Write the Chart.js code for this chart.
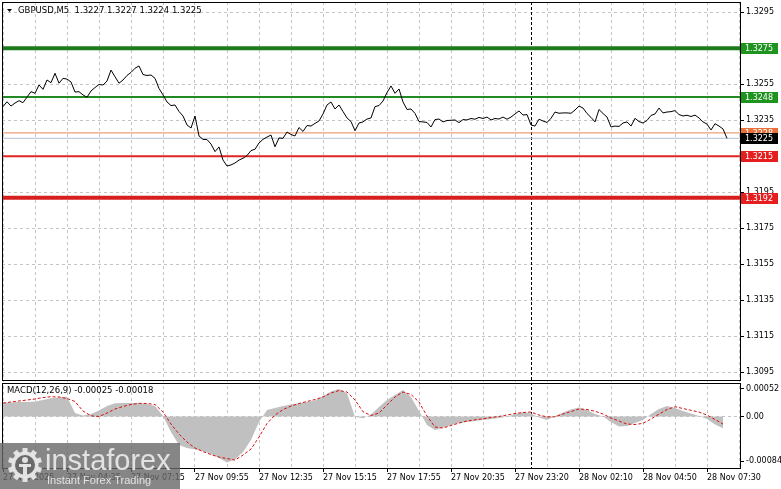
<!DOCTYPE html>
<html><head><meta charset="utf-8">
<script src="https://cdn.jsdelivr.net/npm/chart.js@4.4.1/dist/chart.umd.min.js"></script>
<style>html,body{margin:0;padding:0;background:#fff;}canvas{display:block;}</style>
</head><body>
<canvas id="c" width="781" height="489"></canvas>
<script>
// ---------- data ----------
const symbolTitle = 'GBPUSD,M5  1.3227 1.3227 1.3224 1.3225';
const macdTitle = 'MACD(12,26,9) -0.00025 -0.00018';
const priceStep = 2;   // M5 bars between price samples
const closes = [
1.32426,1.32453,1.32429,1.32446,1.32459,1.32448,1.32479,1.32509,1.32500,1.32546,
1.32522,1.32574,1.32559,1.32611,1.32556,1.32583,1.32579,1.32563,1.32507,1.32509,
1.32491,1.32478,1.32513,1.32532,1.32549,1.32546,1.32568,1.32629,1.32592,1.32556,
1.32574,1.32599,1.32616,1.32639,1.32652,1.32604,1.32599,1.32602,1.32583,1.32527,
1.32491,1.32452,1.32432,1.32435,1.32399,1.32374,1.32324,1.32307,1.32374,1.32263,
1.32244,1.32243,1.32218,1.32176,1.32202,1.32129,1.32096,1.32102,1.32113,1.32129,
1.32139,1.32154,1.32182,1.32189,1.32224,1.32244,1.32257,1.32268,1.32203,1.32252,
1.32250,1.32285,1.32271,1.32263,1.32310,1.32288,1.32321,1.32318,1.32333,1.32346,
1.32385,1.32435,1.32452,1.32413,1.32435,1.32399,1.32363,1.32343,1.32292,1.32335,
1.32341,1.32357,1.32363,1.32426,1.32432,1.32457,1.32504,1.32541,1.32500,1.32524,
1.32452,1.32410,1.32413,1.32388,1.32343,1.32341,1.32338,1.32313,1.32354,1.32357,
1.32341,1.32349,1.32350,1.32352,1.32337,1.32354,1.32352,1.32360,1.32356,1.32366,
1.32360,1.32368,1.32352,1.32360,1.32357,1.32368,1.32356,1.32368,1.32385,1.32402,
1.32379,1.32382,1.32324,1.32318,1.32356,1.32346,1.32338,1.32361,1.32396,1.32389,
1.32391,1.32391,1.32389,1.32407,1.32429,1.32418,1.32388,1.32366,1.32341,1.32410,
1.32388,1.32368,1.32313,1.32318,1.32316,1.32335,1.32341,1.32318,1.32361,1.32343,
1.32335,1.32349,1.32377,1.32385,1.32418,1.32391,1.32396,1.32398,1.32404,1.32382,
1.32374,1.32378,1.32371,1.32379,1.32363,1.32341,1.32329,1.32296,1.32331,1.32318,
1.32302,1.32250];
const macdStep = 4;    // M5 bars between MACD samples
const macdHist = [
0.000255,0.000265,0.000274,0.000274,0.000284,0.000312,0.000344,0.000359,0.000374,0.000066,
0.000019,0.000047,0.000113,0.000198,0.000250,0.000255,0.000255,0.000255,0.000236,0.000198,
0.000009,-0.000293,-0.000539,-0.000595,-0.000624,-0.000652,-0.000709,-0.000784,-0.000870,-0.000813,
-0.000671,-0.000444,-0.000104,0.000123,0.000161,0.000198,0.000227,0.000250,0.000274,0.000302,
0.000388,0.000473,0.000520,0.000439,-0.000006,-0.000034,0.000038,0.000180,0.000312,0.000406,
0.000501,0.000369,0.000104,-0.000161,-0.000255,-0.000208,-0.000161,-0.000123,-0.000104,-0.000085,
-0.000066,-0.000047,-0.000028,-0.000004,0.000047,0.000085,0.000057,-0.000019,-0.000066,0.000009,
0.000076,0.000132,0.000170,0.000123,0.000047,0.000000,-0.000104,-0.000189,-0.000180,-0.000123,
-0.000066,0.000047,0.000142,0.000198,0.000161,0.000104,0.000057,0.000010,-0.000047,-0.000151,
-0.000223];
const macdSignal = [
0.000255,0.000274,0.000293,0.000312,0.000331,0.000359,0.000374,0.000369,0.000340,0.000284,
0.000104,0.000013,0.000000,0.000066,0.000142,0.000189,0.000227,0.000250,0.000246,0.000227,
0.000085,-0.000142,-0.000331,-0.000482,-0.000595,-0.000662,-0.000718,-0.000766,-0.000794,-0.000822,
-0.000728,-0.000614,-0.000388,-0.000132,0.000028,0.000132,0.000198,0.000246,0.000284,0.000321,
0.000369,0.000444,0.000491,0.000463,0.000312,0.000091,0.000019,0.000066,0.000217,0.000369,
0.000463,0.000416,0.000274,0.000010,-0.000198,-0.000217,-0.000170,-0.000123,-0.000085,-0.000062,
-0.000043,-0.000019,0.000002,0.000028,0.000057,0.000076,0.000085,0.000028,-0.000006,-0.000006,
0.000047,0.000095,0.000142,0.000132,0.000100,0.000047,-0.000028,-0.000085,-0.000142,-0.000151,
-0.000129,-0.000047,0.000047,0.000132,0.000185,0.000151,0.000117,0.000085,0.000028,-0.000057,
-0.000142];
const labelEvery = 32;  // bars between time labels
const timeLabels = ['27 Nov 2025','27 Nov 04:35','27 Nov 07:15','27 Nov 09:55','27 Nov 12:35','27 Nov 15:15',
  '27 Nov 17:55','27 Nov 20:35','27 Nov 23:20','28 Nov 02:10','28 Nov 04:50','28 Nov 07:30'];
const daySeparatorBar = 264;
const priceTicks = [1.3295,1.3275,1.3255,1.3235,1.3215,1.3195,1.3175,1.3155,1.3135,1.3115,1.3095];
const macdTicks = [0.00052, 0, -0.00084];
const levelValues = [1.3275, 1.3248, 1.3215, 1.3192];
const refPrice = 1.3228;
const bidPrice = 1.3225;

// ---------- build ----------
const xMin = -0.5, xMax = 368.5;
const priceData = closes.map((v,i)=>({x:i*priceStep, y:v}));
const histData = macdHist.map((v,i)=>({x:i*macdStep, y:v}));
const sigData = macdSignal.map((v,i)=>({x:i*macdStep, y:v}));
const hline = v => [{x:xMin,y:v},{x:xMax,y:v}];
const levelStyle = [
  {color:'#1c7c1c', width:4, box:'#1e931e'},
  {color:'#238a23', width:2, box:'#1e931e'},
  {color:'#e02424', width:2, box:'#e51f1f'},
  {color:'#d81f1f', width:4, box:'#e51f1f'}
];
const FONT = '"DejaVu Sans"';
Chart.defaults.font.family = 'DejaVu Sans';

const datasets = [
  {data:priceData, yAxisID:'y', borderColor:'#000', borderWidth:1, pointRadius:0, tension:0, order:0},
  {data:sigData, yAxisID:'y2', borderColor:'#d81010', borderWidth:1, borderDash:[3,2], pointRadius:0, tension:0, order:1},
  {data:histData, yAxisID:'y2', borderColor:'rgba(0,0,0,0)', borderWidth:0, backgroundColor:'#c0c0c0', fill:'origin', pointRadius:0, tension:0, order:2},
  {data:hline(bidPrice), yAxisID:'y', borderColor:'#aec2d6', borderWidth:1, pointRadius:0, order:3},
  {data:hline(refPrice), yAxisID:'y', borderColor:'#e8875a', borderWidth:1, pointRadius:0, order:4}
];
levelValues.forEach((v,i)=>datasets.push({data:hline(v), yAxisID:'y', borderColor:levelStyle[i].color, borderWidth:levelStyle[i].width, pointRadius:0, order:5+i}));

const gridGray = '#c4c4c4';
const noPad = s => { s.paddingTop = 0; s.paddingBottom = 0; s.paddingLeft = 0; s.paddingRight = 0; };
const decor = {
  id:'decor',
  beforeDatasetsDraw(chart){
    const {ctx, chartArea:a, scales:{x}} = chart;
    const px = Math.round(x.getPixelForValue(daySeparatorBar)) + 0.5;
    ctx.save(); ctx.strokeStyle='#000'; ctx.lineWidth=1; ctx.setLineDash([3,2]);
    ctx.beginPath(); ctx.moveTo(px,a.top); ctx.lineTo(px,a.bottom); ctx.stroke(); ctx.restore();
  },
  afterDraw(chart){
    const {ctx, chartArea:a, scales:{y,y2}} = chart;
    ctx.save();
    ctx.setLineDash([]);
    // pane separator + frames
    ctx.fillStyle='#fff'; ctx.fillRect(a.left, y.bottom+1, a.right-a.left, 2);
    ctx.strokeStyle='#000'; ctx.lineWidth=1;
    ctx.strokeRect(a.left+0.5, a.top+0.5, a.right-a.left, y.bottom-a.top-1);
    ctx.strokeRect(a.left+0.5, y.bottom+2.5, a.right-a.left, a.bottom-y.bottom-2);
    // price level labels
    const boxes = [
      {v:levelValues[0], bg:levelStyle[0].box}, {v:levelValues[1], bg:levelStyle[1].box},
      {v:refPrice, bg:'#e8703a'}, {v:bidPrice, bg:'#000'},
      {v:levelValues[2], bg:levelStyle[2].box}, {v:levelValues[3], bg:levelStyle[3].box}
    ];
    ctx.font = '8px '+FONT; ctx.textBaseline='middle'; ctx.textAlign='left';
    boxes.forEach(b=>{
      const py = Math.round(y.getPixelForValue(b.v));
      ctx.fillStyle=b.bg; ctx.fillRect(a.right+1, py-5, 37, 11);
      ctx.fillStyle='#fff'; ctx.fillText(b.v.toFixed(4), a.right+5, py+0.5);
    });
    // titles
    ctx.fillStyle='#000';
    ctx.beginPath(); ctx.moveTo(7,9); ctx.lineTo(12,9); ctx.lineTo(9.5,12); ctx.closePath(); ctx.fill();
    ctx.font = '8.5px '+FONT; ctx.textBaseline='middle';
    ctx.fillText(symbolTitle, 18, 11);
    ctx.fillText(macdTitle, 7, 391);
    // watermark
    ctx.fillStyle='rgba(104,104,104,0.8)';
    ctx.fillRect(0, 443, 180, 46);
    const cx=25, cy=465;
    ctx.fillStyle='rgba(232,232,232,0.95)';
    for (let i=0;i<10;i++){ ctx.save(); ctx.translate(cx,cy); ctx.rotate(i*Math.PI/5); ctx.fillRect(-2.5,-17,5,5); ctx.restore(); }
    ctx.beginPath(); ctx.arc(cx,cy,13.5,0,Math.PI*2); ctx.fill();
    ctx.fillStyle='#6a6a6a'; ctx.beginPath(); ctx.arc(cx,cy,10,0,Math.PI*2); ctx.fill();
    ctx.fillStyle='rgba(232,232,232,0.95)';
    ctx.beginPath(); ctx.arc(cx,cy-5,3,0,Math.PI*2); ctx.fill();
    ctx.fillRect(cx-6,cy-1,12,3); ctx.fillRect(cx-2,cy-1,4,11);
    ctx.font='29px "Liberation Sans"'; ctx.textBaseline='alphabetic';
    ctx.fillText('instaforex', 45, 470);
    ctx.font='11px "Liberation Sans"';
    ctx.fillText('Instant Forex Trading', 47, 484);
    ctx.restore();
  }
};

new Chart(document.getElementById('c'), {
  type:'line',
  data:{datasets},
  plugins:[decor],
  options:{
    responsive:false, animation:false, devicePixelRatio:1,
    layout:{padding:{left:2, top:2, right:0, bottom:0}},
    plugins:{legend:{display:false}, tooltip:{enabled:false}},
    scales:{
      x:{type:'linear', position:'bottom', min:xMin, max:xMax,
        afterBuildTicks: s => { const t=[]; for(let b=0;b<=xMax;b+=labelEvery/2) t.push({value:b}); s.ticks=t; },
        afterFit: s => { s.height = 21; noPad(s); },
        ticks:{autoSkip:false, maxRotation:0, minRotation:0, align:'start', padding:1, color:'#000',
          font:{family:'DejaVu Sans', size:8},
          callback: v => (v % labelEvery === 0 ? (timeLabels[v/labelEvery] || '') : '')},
        grid:{color:gridGray, lineWidth:1, tickLength:4, tickBorderDash:[],
          tickColor: c => (c.tick && c.tick.value % labelEvery === 0) ? '#000' : 'rgba(0,0,0,0)'},
        border:{display:false, dash:[3,3]}
      },
      y:{type:'linear', position:'right', stack:'panes', stackWeight:379,
        min:1.309017, max:1.330072,
        afterBuildTicks: s => { s.ticks = priceTicks.map(v=>({value:v})); },
        afterFit: s => { s.width = 41; noPad(s); },
        ticks:{color:'#000', padding:2, font:{family:'DejaVu Sans', size:8}, callback: v => Number(v).toFixed(4)},
        grid:{color:gridGray, tickLength:4, tickColor:'#000', tickBorderDash:[]},
        border:{display:false, dash:[3,3]}
      },
      y2:{type:'linear', position:'right', stack:'panes', stackWeight:87,
        min:-0.000972, max:0.000671,
        afterBuildTicks: s => { s.ticks = macdTicks.map(v=>({value:v})); },
        afterFit: s => { s.width = 41; noPad(s); },
        ticks:{color:'#000', padding:2, font:{family:'DejaVu Sans', size:8},
          callback: v => (v === 0 ? '0.00' : Number(v).toFixed(5))},
        grid:{color: c => (c.tick && c.tick.value === 0) ? gridGray : 'rgba(0,0,0,0)', tickLength:4, tickColor:'#000', tickBorderDash:[]},
        border:{display:false, dash:[3,3]}
      }
    }
  }
});
</script>
</body></html>
